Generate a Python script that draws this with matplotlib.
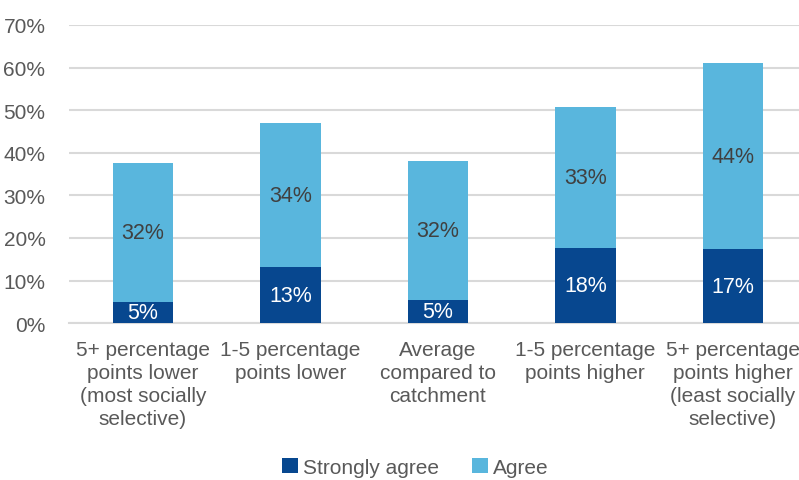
import matplotlib.pyplot as plt
import numpy as np

# Data
categories = [
    "5+ percentage\npoints lower\n(most socially\nselective)",
    "1-5 percentage\npoints lower",
    "Average\ncompared to\ncatchment",
    "1-5 percentage\npoints higher",
    "5+ percentage\npoints higher\n(least socially\nselective)",
]
strongly_agree = [4.9, 13.1, 5.4, 17.6, 17.4]
agree = [32.6, 33.9, 32.6, 33.1, 43.6]
strongly_labels = ["5%", "13%", "5%", "18%", "17%"]
agree_labels = ["32%", "34%", "32%", "33%", "44%"]

dark_blue = "#07478F"
light_blue = "#59B6DD"
grey_text = "#595959"

plt.rcParams['font.family'] = ['Liberation Sans', 'DejaVu Sans']

fig = plt.figure(figsize=(7.99, 4.81), dpi=100)
ax = fig.add_axes([0.0864, 0.326, 0.923, 0.62])

x = np.arange(len(categories))
width = 0.41
ax.bar(x, strongly_agree, width, color=dark_blue, label="Strongly agree", zorder=3)
ax.bar(x, agree, width, bottom=strongly_agree, color=light_blue, label="Agree", zorder=3)

# value labels
for i in range(len(x)):
    ax.text(x[i], strongly_agree[i] / 2, strongly_labels[i], ha='center', va='center',
            color='white', fontsize=15.5, zorder=4)
    ax.text(x[i], strongly_agree[i] + agree[i] / 2, agree_labels[i], ha='center', va='center',
            color='#404040', fontsize=15.5, zorder=4)

ax.set_xlim(-0.5, len(categories) - 0.5)
ax.set_ylim(0, 70)
ax.set_yticks(np.arange(0, 71, 10))
ax.set_yticklabels([f"{v}%" for v in range(0, 71, 10)])
ax.set_xticks(x)
ax.set_xticklabels(categories, linespacing=1.27)

ax.yaxis.grid(True, color='#D9D9D9', linewidth=1.5, zorder=0)
ax.set_axisbelow(True)
for s in ['top', 'right', 'left']:
    ax.spines[s].set_visible(False)
ax.spines['bottom'].set_color('#D9D9D9')
ax.spines['bottom'].set_linewidth(1.5)
ax.tick_params(axis='both', length=0, labelsize=15, labelcolor=grey_text)
ax.tick_params(axis='y', pad=17)
ax.tick_params(axis='x', pad=12)

fig.legend(loc='lower center', bbox_to_anchor=(0.52, -0.033), ncol=2, frameon=False,
           fontsize=15, labelcolor=grey_text, handlelength=0.75, handleheight=0.75,
           handletextpad=0.25, columnspacing=1.6)

fig.savefig("out.png", dpi=100)
